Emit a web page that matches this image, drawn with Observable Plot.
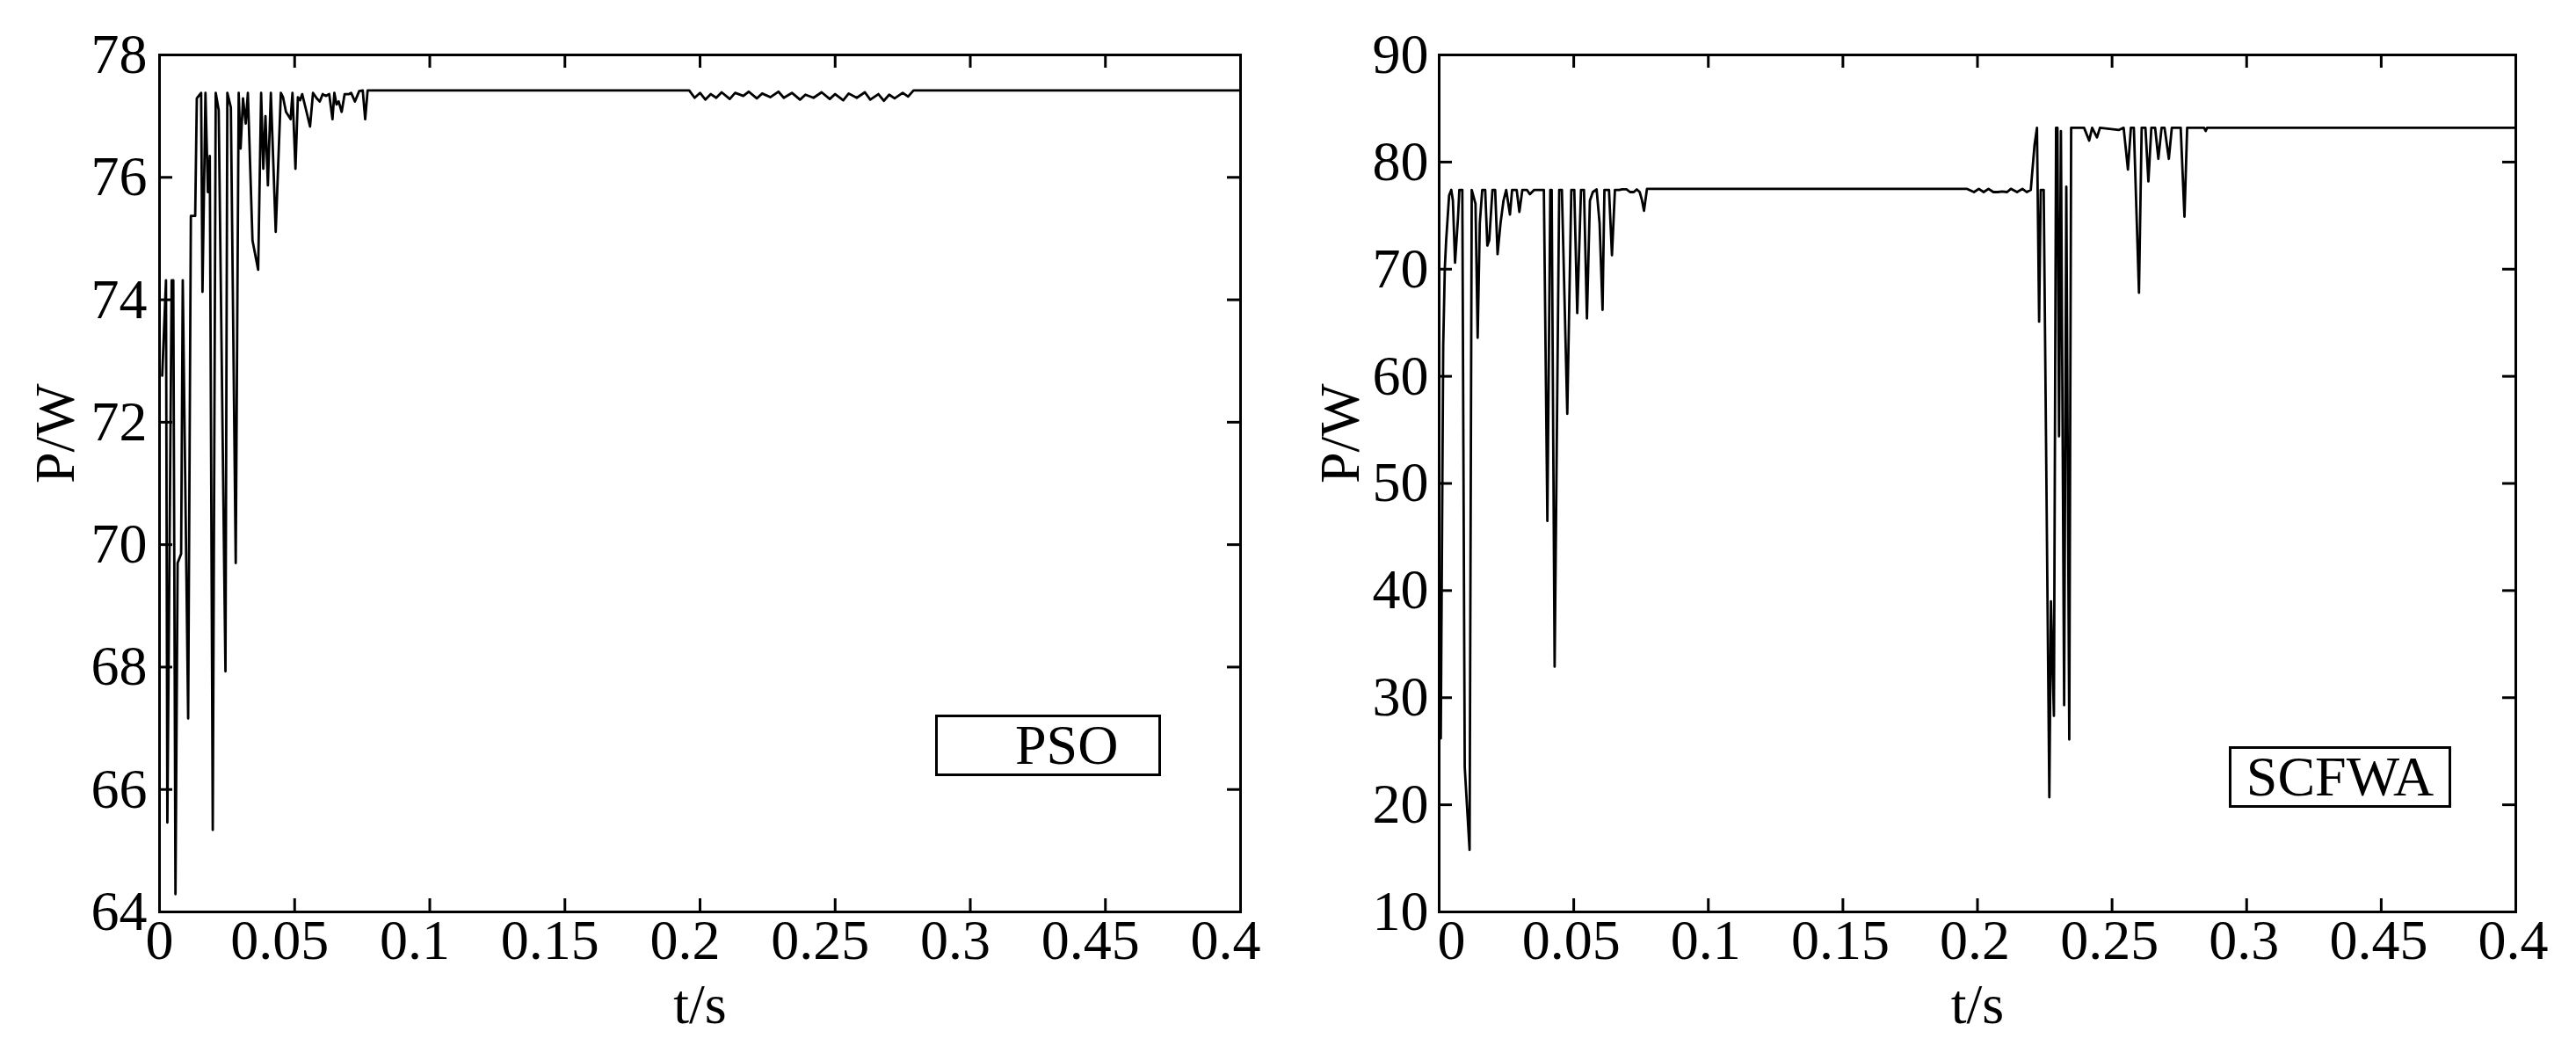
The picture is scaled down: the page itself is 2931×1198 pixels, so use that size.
<!DOCTYPE html>
<html>
<head>
<meta charset="utf-8">
<script src="https://cdn.jsdelivr.net/npm/d3@7"></script>
<script src="https://cdn.jsdelivr.net/npm/@observablehq/plot@0.6"></script>
<style>
  body { margin: 0; background: #fff; }
  #wrap { position: relative; width: 2931px; height: 1198px; display: flex; background: #fff; }
  .legend { position: absolute; box-sizing: border-box; border: 3px solid #000; background: #fff;
            font-family: "Liberation Serif", "Times New Roman", serif; font-size: 64px; color: #000;
            display: flex; align-items: center; line-height: 1; }
</style>
</head>
<body>
<div id="wrap"></div>
<script>
// ---------- data ----------
const xTicks = [0, 0.05, 0.1, 0.15, 0.2, 0.25, 0.3, 0.35, 0.4];
const xTickLabels = ["0", "0.05", "0.1", "0.15", "0.2", "0.25", "0.3", "0.45", "0.4"];
const psoYTicks = [64, 66, 68, 70, 72, 74, 76, 78];
const scfwaYTicks = [10, 20, 30, 40, 50, 60, 70, 80, 90];
const legendNames = ["PSO", "SCFWA"];

const psoT = [0.0010, 0.0024, 0.0029, 0.0045, 0.0051, 0.0059, 0.0067, 0.0080, 0.0086, 0.0106,
  0.0116, 0.0132, 0.0138, 0.0154, 0.0159, 0.0170, 0.0179, 0.0186, 0.0197, 0.0208,
  0.0219, 0.0244, 0.0251, 0.0264, 0.0282, 0.0293, 0.0300, 0.0309, 0.0319, 0.0327,
  0.0344, 0.0365, 0.0376, 0.0384, 0.0392, 0.0401, 0.0412, 0.0430, 0.0449, 0.0457,
  0.0468, 0.0485, 0.0492, 0.0503, 0.0512, 0.0520, 0.0528, 0.0544, 0.0557, 0.0568,
  0.0582, 0.0593, 0.0604, 0.0615, 0.0628, 0.0640, 0.0647, 0.0655, 0.0663, 0.0674,
  0.0685, 0.0701, 0.0709, 0.0723, 0.0739, 0.0752, 0.0761, 0.0770, 0.1960,
  0.1980, 0.2000, 0.2020, 0.2040, 0.2060, 0.2080, 0.2110, 0.2130, 0.2160, 0.2180,
  0.2210, 0.2230, 0.2260, 0.2290, 0.2310, 0.2340, 0.2370, 0.2390, 0.2420, 0.2450,
  0.2480, 0.2500, 0.2530, 0.2550, 0.2580, 0.2610, 0.2630, 0.2660, 0.2680, 0.2700,
  0.2720, 0.2750, 0.2770, 0.2790, 0.4000];
const psoP = [72.76, 74.32, 65.46, 74.32, 74.32, 64.29, 69.70, 69.85, 74.32, 67.16,
  75.37, 75.37, 77.29, 77.38, 74.13, 77.38, 75.76, 76.35, 65.34, 77.38,
  77.10, 67.93, 77.38, 77.14, 69.70, 77.38, 76.47, 77.29, 76.88, 77.38,
  74.97, 74.49, 77.38, 76.14, 77.00, 75.87, 77.38, 75.11, 77.38, 77.31,
  77.07, 76.95, 77.38, 76.14, 77.31, 77.26, 77.36, 77.07, 76.83, 77.38,
  77.29, 77.24, 77.36, 77.33, 77.36, 76.95, 77.38, 77.19, 77.24, 77.07,
  77.36, 77.36, 77.38, 77.24, 77.41, 77.42, 76.95, 77.42, 77.42,
  77.30, 77.38, 77.27, 77.36, 77.30, 77.39, 77.28, 77.38, 77.33, 77.40,
  77.29, 77.37, 77.31, 77.40, 77.30, 77.38, 77.27, 77.35, 77.30, 77.39,
  77.28, 77.36, 77.26, 77.37, 77.30, 77.39, 77.27, 77.36, 77.25, 77.35,
  77.29, 77.38, 77.32, 77.42, 77.42];

const scfwaT = [0.0002, 0.0006, 0.0015, 0.0021, 0.0026, 0.0037, 0.0045, 0.0051, 0.0059, 0.0070,
  0.0075, 0.0086, 0.0095, 0.0113, 0.0121, 0.0135, 0.0143, 0.0151, 0.0160, 0.0171,
  0.0179, 0.0186, 0.0198, 0.0208, 0.0217, 0.0228, 0.0239, 0.0249, 0.0263, 0.0271,
  0.0288, 0.0298, 0.0309, 0.0326, 0.0337, 0.0353, 0.0389, 0.0402, 0.0413, 0.0418,
  0.0429, 0.0446, 0.0456, 0.0476, 0.0491, 0.0502, 0.0513, 0.0527, 0.0538, 0.0549,
  0.0560, 0.0571, 0.0585, 0.0596, 0.0607, 0.0614, 0.0631, 0.0642, 0.0653, 0.0669,
  0.0680, 0.0696, 0.0709, 0.0723, 0.0734, 0.0745, 0.0753, 0.0761, 0.0772, 0.1960,
  0.1987, 0.2005, 0.2023, 0.2041, 0.2059, 0.2075, 0.2092, 0.2110, 0.2124, 0.2147,
  0.2167, 0.2183, 0.2198, 0.2212, 0.2221, 0.2229, 0.2235, 0.2246, 0.2267, 0.2273,
  0.2284, 0.2292, 0.2297, 0.2303, 0.2310, 0.2322, 0.2330, 0.2341, 0.2348, 0.2396,
  0.2415, 0.2426, 0.2444, 0.2455, 0.2526, 0.2543, 0.2559, 0.2570, 0.2581, 0.2600,
  0.2610, 0.2624, 0.2635, 0.2646, 0.2660, 0.2672, 0.2684, 0.2695, 0.2711, 0.2722,
  0.2755, 0.2769, 0.2779, 0.2842, 0.2848, 0.2853, 0.4000];
const scfwaP = [26.2, 26.2, 62.8, 70.1, 72.7, 76.9, 77.4, 76.4, 70.6, 74.8,
  77.4, 77.4, 23.5, 15.8, 77.4, 76.1, 63.6, 74.3, 77.4, 77.4,
  72.2, 72.7, 77.4, 77.4, 71.4, 74.3, 76.4, 77.4, 75.1, 77.4,
  77.4, 75.35, 77.4, 77.4, 77.0, 77.4, 77.4, 46.5, 77.4, 77.4,
  32.9, 77.4, 77.4, 56.5, 77.4, 77.4, 65.9, 77.4, 77.4, 65.4,
  76.4, 77.2, 77.45, 74.3, 66.2, 77.4, 77.4, 71.3, 77.4, 77.4,
  77.45, 77.45, 77.2, 77.2, 77.45, 77.2, 76.5, 75.45, 77.5, 77.5,
  77.2, 77.5, 77.2, 77.5, 77.2, 77.2, 77.25, 77.2, 77.5, 77.2,
  77.5, 77.2, 77.4, 81.6, 83.2, 65.1, 77.4, 77.4, 20.7, 39.0,
  28.3, 83.2, 83.2, 54.4, 82.9, 29.3, 77.7, 26.1, 83.2, 83.2,
  82.0, 83.2, 82.3, 83.2, 83.0, 83.2, 79.3, 83.2, 83.2, 67.8,
  83.2, 83.2, 78.2, 83.2, 83.2, 80.3, 83.2, 83.2, 80.3, 83.2,
  83.2, 74.9, 83.2, 83.2, 82.9, 83.2, 83.2];

// ---------- drawing ----------
const FONT = '"Liberation Serif", "Times New Roman", serif';

function panel({T, P, yDomain, yTicks, width, mL, mR, labelDx, zeroDx, yPad, yTitleDx}) {
  const data = T.map((t, i) => ({t, p: P[i]}));
  const H = 1198, mT = 62, mB = 161;
  const ih = H - mT - mB, iw = width - mL - mR;
  const tk = 15;
  const innerX = xTicks.slice(1, -1);
  const innerY = yTicks.slice(1, -1);
  const fmtX = d => xTickLabels[xTicks.indexOf(d)];
  return Plot.plot({
    width, height: H,
    marginLeft: mL, marginRight: mR, marginTop: mT, marginBottom: mB,
    x: {domain: [0, 0.4]},
    y: {domain: yDomain},
    style: {fontFamily: FONT, fontSize: "64px", color: "#000", background: "#fff"},
    marks: [
      Plot.axisY(yTicks, {tickSize: 0, tickPadding: yPad, tickFormat: d => String(d), fontSize: 64, label: null}),
      Plot.axisX([0], {tickSize: 0, tickPadding: 8, tickFormat: fmtX, fontSize: 64, dx: zeroDx, label: null}),
      Plot.axisX(xTicks.slice(1), {tickSize: 0, tickPadding: 8, tickFormat: fmtX, fontSize: 64, dx: labelDx, label: null}),
      Plot.tickX(innerX, {x: d => d, insetTop: ih - tk, stroke: "#000", strokeWidth: 3}),
      Plot.tickX(innerX, {x: d => d, insetBottom: ih - tk, stroke: "#000", strokeWidth: 3}),
      Plot.tickY(innerY, {y: d => d, insetRight: iw - tk, stroke: "#000", strokeWidth: 3}),
      Plot.tickY(innerY, {y: d => d, insetLeft: iw - tk, stroke: "#000", strokeWidth: 3}),
      Plot.line(data, {x: "t", y: "p", stroke: "#000", strokeWidth: 2.8}),
      Plot.frame({stroke: "#000", strokeWidth: 3}),
      Plot.text(["t/s"], {text: d => d, frameAnchor: "bottom", dy: 106, lineAnchor: "middle", fontSize: 64}),
      Plot.text(["P/W"], {text: d => d, frameAnchor: "left", rotate: -90, dx: yTitleDx, lineAnchor: "middle", fontSize: 64})
    ]
  });
}

const wrap = document.getElementById("wrap");
wrap.appendChild(panel({T: psoT, P: psoP, yDomain: [64, 78], yTicks: psoYTicks,
  width: 1466, mL: 181, mR: 55, labelDx: -17, zeroDx: 0, yPad: 14, yTitleDx: -118}));
wrap.appendChild(panel({T: scfwaT, P: scfwaP, yDomain: [10, 90], yTicks: scfwaYTicks,
  width: 1465, mL: 171, mR: 69, labelDx: -3, zeroDx: 14, yPad: 12, yTitleDx: -112}));

// legends (boxed labels)
const lg1 = document.createElement("div");
lg1.className = "legend";
Object.assign(lg1.style, {left: "1064px", top: "813px", width: "257px", height: "70px", paddingLeft: "88px"});
lg1.textContent = legendNames[0];
wrap.appendChild(lg1);

const lg2 = document.createElement("div");
lg2.className = "legend";
Object.assign(lg2.style, {left: "2536px", top: "849px", width: "253px", height: "70px", justifyContent: "center"});
lg2.textContent = legendNames[1];
wrap.appendChild(lg2);
</script>
</body>
</html>
